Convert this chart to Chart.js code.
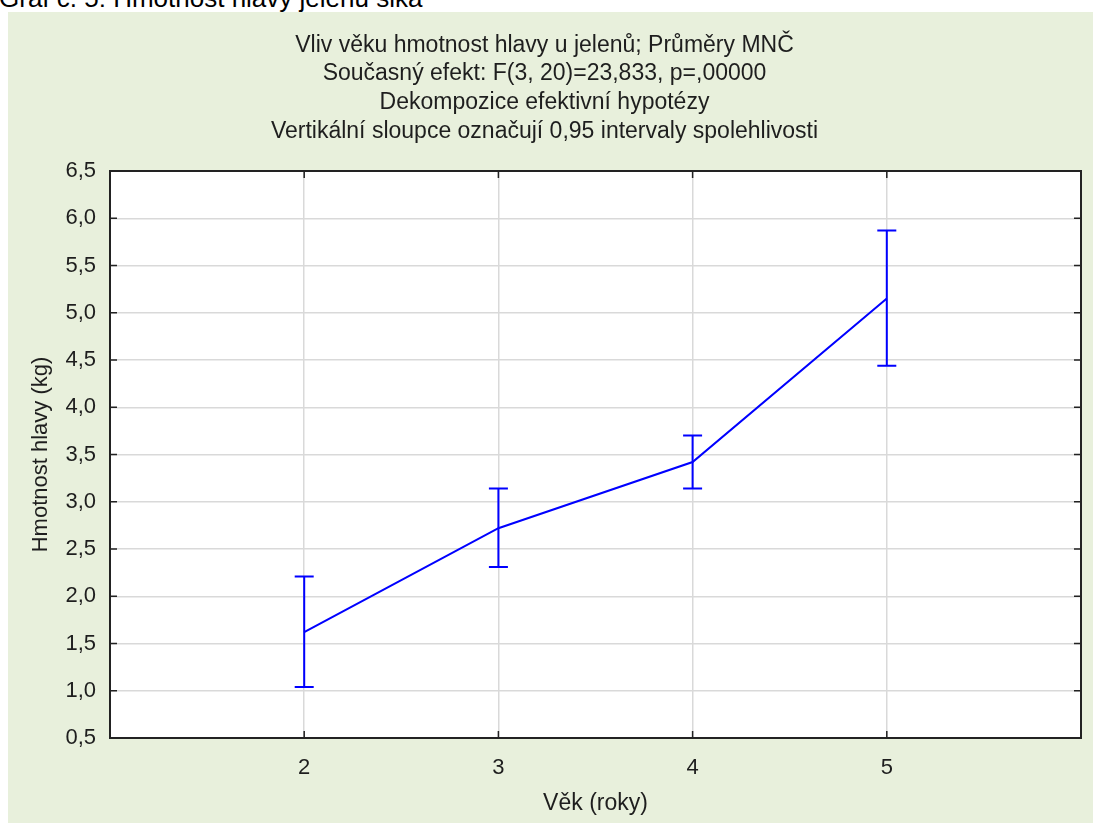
<!DOCTYPE html>
<html>
<head>
<meta charset="utf-8">
<script src="https://cdn.jsdelivr.net/npm/chart.js@4.4.1/dist/chart.umd.min.js"></script>
<style>
  html, body { margin: 0; padding: 0; background: #fff; overflow: hidden; }
  .caption {
    position: absolute; left: -1px; top: -15px;
    font-family: "Liberation Sans", Arial, sans-serif; font-size: 26px; line-height: 26px;
    color: #000; white-space: nowrap; z-index: 1;
  }
  .panel {
    position: absolute; left: 8px; top: 12px; width: 1085px; height: 811px;
    background: #e8f0dc; z-index: 2;
  }
</style>
</head>
<body>
<div class="caption">Graf č. 5: Hmotnost hlavy jelenů sika</div>
<div class="panel"><canvas id="myChart" width="1085" height="811"></canvas></div>
<script>
// data
const ages = [2, 3, 4, 5];
const means = [1.62, 2.72, 3.42, 5.15];
const ciLower = [1.04, 2.31, 3.14, 4.44];
const ciUpper = [2.21, 3.14, 3.70, 5.87];
const yTicks = [0.5, 1.0, 1.5, 2.0, 2.5, 3.0, 3.5, 4.0, 4.5, 5.0, 5.5, 6.0, 6.5];

const titleLines = [
  "Vliv věku hmotnost hlavy u jelenů; Průměry MNČ",
  "Současný efekt: F(3, 20)=23,833, p=,00000",
  "Dekompozice efektivní hypotézy",
  "Vertikální sloupce označují 0,95 intervaly spolehlivosti"
];

const FONT = "'Liberation Sans', Arial, sans-serif";
const TEXT = "#1e1e1e";
const BLUE = "#0000ff";

// white plot area, frame, inward tick marks and error bars
const plotDecor = {
  id: "plotDecor",
  beforeDraw(chart) {
    const { ctx, chartArea: a } = chart;
    ctx.save();
    ctx.fillStyle = "#fff";
    ctx.fillRect(a.left, a.top, a.right - a.left, a.bottom - a.top);
    ctx.restore();
  },
  afterDatasetsDraw(chart) {
    const { ctx, chartArea: a, scales } = chart;
    const x = scales.x, y = scales.y;
    ctx.save();
    // error bars
    ctx.strokeStyle = BLUE;
    ctx.lineWidth = 2;
    ages.forEach((age, i) => {
      const px = x.getPixelForValue(age);
      const lo = y.getPixelForValue(ciLower[i]);
      const hi = y.getPixelForValue(ciUpper[i]);
      ctx.beginPath();
      ctx.moveTo(px, lo); ctx.lineTo(px, hi);
      ctx.moveTo(px - 9.5, lo); ctx.lineTo(px + 9.5, lo);
      ctx.moveTo(px - 9.5, hi); ctx.lineTo(px + 9.5, hi);
      ctx.stroke();
    });
    // inward ticks
    ctx.strokeStyle = "#222";
    ctx.lineWidth = 1.5;
    ctx.beginPath();
    ages.forEach(age => {
      const px = x.getPixelForValue(age);
      ctx.moveTo(px, a.bottom); ctx.lineTo(px, a.bottom - 7);
      ctx.moveTo(px, a.top); ctx.lineTo(px, a.top + 7);
    });
    yTicks.forEach(v => {
      const py = y.getPixelForValue(v);
      ctx.moveTo(a.left, py); ctx.lineTo(a.left + 7, py);
      ctx.moveTo(a.right, py); ctx.lineTo(a.right - 7, py);
    });
    ctx.stroke();
    // frame
    ctx.strokeStyle = "#222";
    ctx.lineWidth = 2;
    ctx.strokeRect(a.left, a.top, a.right - a.left, a.bottom - a.top);
    ctx.restore();
  }
};

const ctx = document.getElementById("myChart").getContext("2d");
new Chart(ctx, {
  type: "line",
  data: {
    datasets: [{
      data: ages.map((a, i) => ({ x: a, y: means[i] })),
      borderColor: BLUE,
      borderWidth: 2,
      pointRadius: 0,
      tension: 0,
      fill: false
    }]
  },
  options: {
    responsive: false,
    animation: false,
    layout: { padding: { left: 0, right: 12, top: 0, bottom: 0 } },
    plugins: {
      legend: { display: false },
      tooltip: { enabled: false },
      title: {
        display: true,
        text: titleLines,
        color: TEXT,
        font: { family: FONT, size: 23, weight: "normal", lineHeight: 1.25 },
        padding: { top: 19, bottom: 25 }
      }
    },
    scales: {
      x: {
        type: "linear",
        min: 1,
        max: 6,
        afterBuildTicks: s => { s.ticks = ages.map(v => ({ value: v })); },
        afterFit: s => { s.height = 85; },
        grid: { color: "#d9d9d9", lineWidth: 1.5, drawTicks: false },
        border: { display: false },
        ticks: { color: TEXT, font: { family: FONT, size: 22 }, padding: 17 },
        title: {
          display: true, text: "Věk (roky)", color: TEXT,
          font: { family: FONT, size: 23 }, padding: { top: 0, bottom: 6 }
        }
      },
      y: {
        min: 0.5,
        max: 6.5,
        afterBuildTicks: s => { s.ticks = yTicks.map(v => ({ value: v })); },
        afterFit: s => { s.width = 102; },
        grid: { color: "#d9d9d9", lineWidth: 1.5, drawTicks: false },
        border: { display: false },
        ticks: {
          color: TEXT, font: { family: FONT, size: 22 }, padding: 14,
          callback: v => v.toFixed(1).replace(".", ",")
        },
        title: {
          display: true, text: "Hmotnost hlavy (kg)", color: TEXT,
          font: { family: FONT, size: 22 }, padding: { top: 20, bottom: 0 }
        }
      }
    }
  },
  plugins: [plotDecor]
});
</script>
</body>
</html>
